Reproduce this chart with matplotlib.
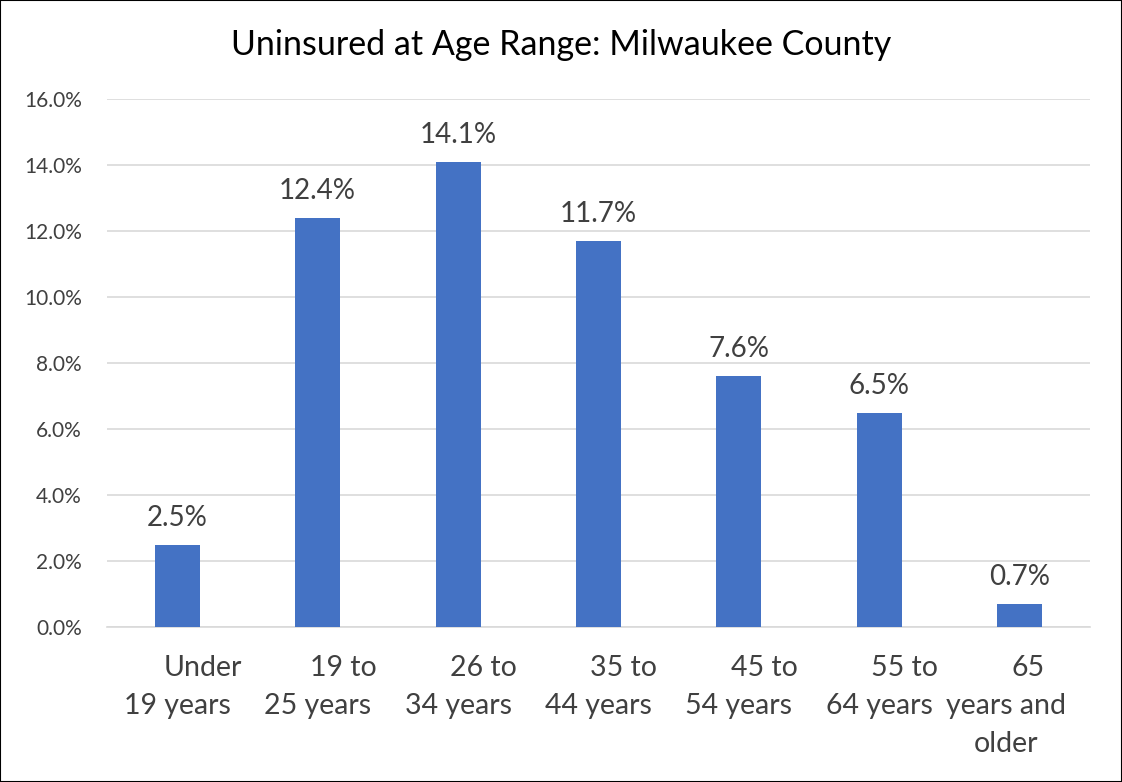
import matplotlib
matplotlib.use("Agg")
import matplotlib.pyplot as plt
import matplotlib.transforms as mtransforms
from matplotlib.ticker import FuncFormatter

plt.rcParams['font.family'] = ['Lato', 'DejaVu Sans']

title = "Uninsured at Age Range: Milwaukee County"
categories = [
    ["Under", "19 years"],
    ["19 to", "25 years"],
    ["26 to", "34 years"],
    ["35 to", "44 years"],
    ["45 to", "54 years"],
    ["55 to", "64 years"],
    ["65", "years and", "older"],
]
values = [0.025, 0.124, 0.141, 0.117, 0.076, 0.065, 0.007]
value_labels = ["2.5%", "12.4%", "14.1%", "11.7%", "7.6%", "6.5%", "0.7%"]
yticks = [0.0, 0.02, 0.04, 0.06, 0.08, 0.10, 0.12, 0.14, 0.16]

BAR = "#4472C4"
TXT = "#404040"
GRID = "#D9D9D9"

fig = plt.figure(figsize=(11.22, 7.82), dpi=100)
ax = fig.add_axes([107/1122, 1-627/782, 983/1122, 528/782])

x = list(range(len(values)))
ax.bar(x, values, width=0.32, color=BAR, zorder=3)
ax.set_xlim(-0.5, len(values)-0.5)
ax.set_ylim(0, 0.16)
ax.set_yticks(yticks)
ax.yaxis.set_major_formatter(FuncFormatter(lambda v, p: f"{v*100:.1f}%"))
ax.tick_params(axis='y', length=0, labelsize=15, labelcolor=TXT, pad=18)
ax.set_xticks([])
ax.grid(axis='y', color=GRID, linewidth=1.2, zorder=0)
for s in ['top', 'right', 'left']:
    ax.spines[s].set_visible(False)
ax.spines['bottom'].set_color(GRID)
ax.spines['bottom'].set_linewidth(1.2)

for xi, v, lab in zip(x, values, value_labels):
    ax.annotate(lab, (xi, v), xytext=(0, 10), textcoords='offset points',
                ha='center', va='bottom', fontsize=20, color=TXT)

trans = mtransforms.blended_transform_factory(ax.transData, fig.transFigure)
for xi, lines in zip(x, categories):
    n = len(lines)
    for j, ln in enumerate(lines):
        if j == 0:
            dx = 0.18 if n == 2 else 0.06
        else:
            dx = 0.0 if n == 2 else -0.10
        ax.text(xi + dx, 1 - (668 + j*38)/782, ln, transform=trans,
                ha='center', va='center', fontsize=20.5, color=TXT)

fig.text(0.5, 1 - 45/782, title, ha='center', va='center', fontsize=24.5, color='#000000')

fig.patches.append(plt.Rectangle((0, 0), 1, 1, transform=fig.transFigure,
                                 fill=False, edgecolor='black', linewidth=1.5))

fig.savefig("out.png", dpi=100)
